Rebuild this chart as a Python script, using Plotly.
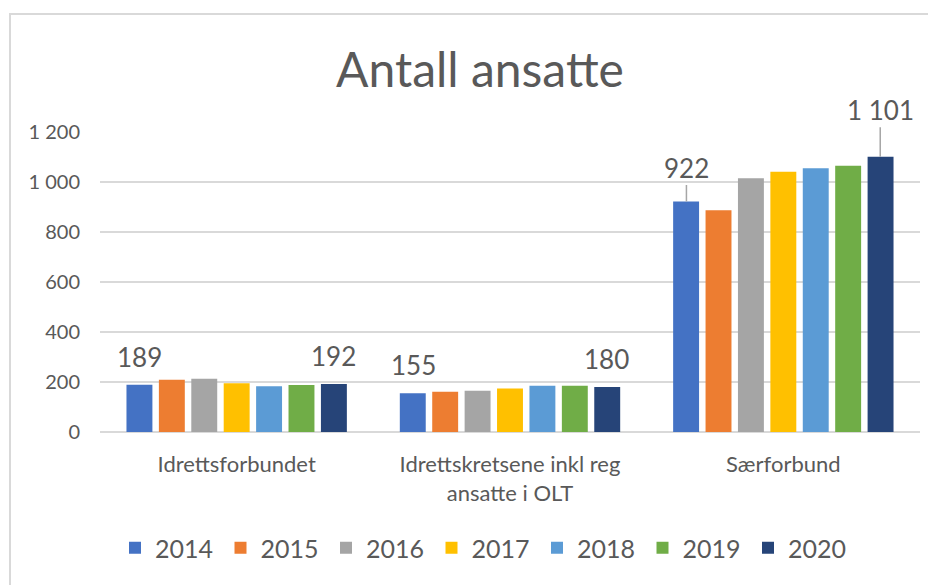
import plotly.graph_objects as go

# Kategorier og verdier (antall ansatte)
kategorier = ["Idrettsforbundet", "Idrettskretsene inkl reg<br>ansatte i OLT", "Særforbund"]
aar = ["2014", "2015", "2016", "2017", "2018", "2019", "2020"]
v2014 = [189, 155, 922]
v2015 = [209, 161, 887]
v2016 = [213, 165, 1015]
v2017 = [195, 174, 1041]
v2018 = [183, 185, 1055]
v2019 = [188, 185, 1065]
v2020 = [192, 180, 1101]
serier = [v2014, v2015, v2016, v2017, v2018, v2019, v2020]
farger = ["#4472C4", "#ED7D31", "#A5A5A5", "#FFC000", "#5B9BD5", "#70AD47", "#264478"]

tekst = "#595959"
font = "Lato"

# siden vises med 8px marg i nettleseren, så figuren gjøres 8px mindre
B, H = 928, 577
L, R, T, U = 92, 912, 124, 424   # plottområdet i piksler

fig = go.Figure()
for navn, verdier, farge in zip(aar, serier, farger):
    fig.add_trace(go.Bar(name=navn, x=kategorier, y=verdier, marker_color=farge,
                         marker_line_width=0))


def fmt(v):
    return f"{v:,}".replace(",", " ")


# Dataetiketter: første og siste år i hver gruppe
pitch = 32.3
for i in (0, 6):
    for k, kat in enumerate(kategorier):
        v = serier[i][k]
        if k < 2:
            fig.add_annotation(x=kat, y=v, text=fmt(v), showarrow=False,
                               xshift=(i - 3) * pitch, yshift=28, yanchor="middle",
                               font=dict(size=26, color=tekst, family=font))
        else:
            fig.add_annotation(x=kat, y=v, text=fmt(v), showarrow=True,
                               arrowhead=0, arrowwidth=1.5, arrowcolor="#a6a6a6",
                               ax=0, ay=-34 if i == 0 else -47, standoff=0,
                               xshift=(i - 3) * pitch,
                               font=dict(size=26, color=tekst, family=font))

fig.update_layout(
    width=B, height=H,
    margin=dict(l=L, r=B - R, t=T, b=H - U),
    paper_bgcolor="white", plot_bgcolor="white",
    separators=", ",
    barmode="group", bargap=0.17, bargroupgap=0.2,
    title=dict(text="Antall ansatte", x=472 / B, xanchor="center",
               y=1 - 62 / H, yanchor="middle",
               font=dict(size=48, color=tekst, family=font)),
    font=dict(family=font, color=tekst),
    legend=dict(orientation="h", x=(107 - L) / (R - L), xanchor="left",
                y=(U - 540) / (U - T), yanchor="middle",
                font=dict(size=25, color=tekst, family=font),
                entrywidth=60.5, entrywidthmode="pixels", itemwidth=30,
                traceorder="normal"),
    shapes=[dict(type="rect", xref="paper", yref="paper",
                 x0=(2 - L) / (R - L), x1=(B + 10 - L) / (R - L),
                 y0=(U - H - 10) / (U - T), y1=(U - 6) / (U - T),
                 line=dict(color="#d9d9d9", width=2))],
)
fig.update_yaxes(range=[0, 1200], dtick=200, gridcolor="#d9d9d9", gridwidth=1.5,
                 zeroline=True, zerolinecolor="#d9d9d9", zerolinewidth=1.5,
                 separatethousands=True,
                 tickfont=dict(size=20, color=tekst, family=font),
                 ticklabelstandoff=19, showline=False)
fig.update_xaxes(tickfont=dict(size=22, color=tekst, family=font), showline=False,
                 ticklabelstandoff=17)

fig.write_html("out.html")
